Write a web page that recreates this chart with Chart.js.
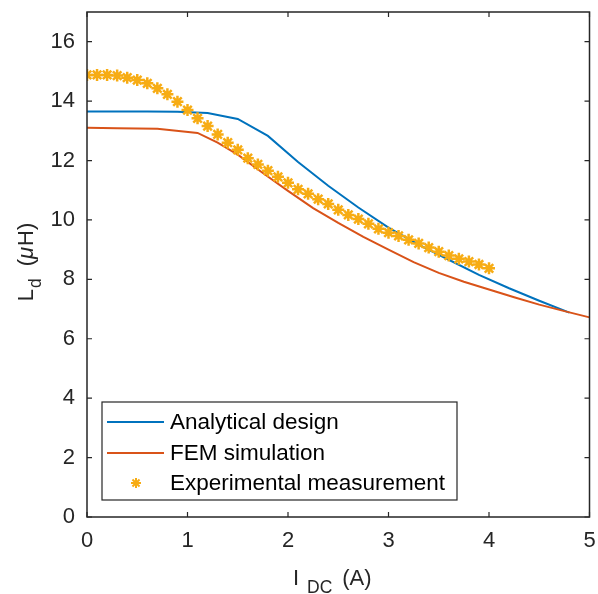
<!DOCTYPE html>
<html>
<head>
<meta charset="utf-8">
<script src="https://cdn.jsdelivr.net/npm/chart.js@4/dist/chart.umd.min.js"></script>
<style>
  html, body { margin: 0; padding: 0; background: #fff; }
</style>
</head>
<body>
<canvas id="chart" width="598" height="594"></canvas>
<script>
// series (I_DC in A, L_d in uH)
const analyticalX = [0, 0.3, 0.6, 0.9, 1.2, 1.5, 1.8, 2.1, 2.4, 2.7, 3.0, 3.3, 3.6, 3.9, 4.2, 4.5, 4.8];
const analyticalY = [13.65, 13.65, 13.65, 13.64, 13.6, 13.4, 12.83, 11.95, 11.15, 10.42, 9.74, 9.17, 8.66, 8.15, 7.7, 7.28, 6.88];

const femX = [0, 0.3, 0.7, 1.1, 1.3, 1.5, 1.75, 2.0, 2.25, 2.5, 2.75, 3.0, 3.25, 3.5, 3.75, 4.0, 4.25, 4.5, 4.75, 5.0];
const femY = [13.1, 13.09, 13.07, 12.93, 12.6, 12.2, 11.58, 10.98, 10.4, 9.9, 9.43, 9.0, 8.58, 8.22, 7.92, 7.66, 7.4, 7.15, 6.93, 6.72];

const measX = [0, 0.1, 0.2, 0.3, 0.4, 0.5, 0.6, 0.7, 0.8, 0.9, 1.0, 1.1, 1.2, 1.3, 1.4, 1.5, 1.6, 1.7, 1.8, 1.9, 2.0,
               2.1, 2.2, 2.3, 2.4, 2.5, 2.6, 2.7, 2.8, 2.9, 3.0, 3.1, 3.2, 3.3, 3.4, 3.5, 3.6, 3.7, 3.8, 3.9, 4.0];
const measY = [14.88, 14.88, 14.88, 14.86, 14.79, 14.71, 14.6, 14.43, 14.23, 13.98, 13.7, 13.42, 13.16, 12.88, 12.6, 12.36,
               12.08, 11.87, 11.66, 11.45, 11.25, 11.03, 10.88, 10.7, 10.54, 10.34, 10.17, 10.03, 9.87, 9.7, 9.57, 9.46,
               9.33, 9.21, 9.07, 8.93, 8.8, 8.69, 8.6, 8.5, 8.37];

const seriesLabels = ['Analytical design', 'FEM simulation', 'Experimental measurement'];
const xTicks = [0, 1, 2, 3, 4, 5];
const yTicks = [0, 2, 4, 6, 8, 10, 12, 14, 16];

const FONT = "'Liberation Sans', Arial, Helvetica, sans-serif";
const AXIS = '#262626';
const BLUE = '#0072BD';
const ORANGE = '#D95319';
const GOLD = '#F7AC14';

const toPoints = (xs, ys) => xs.map((x, i) => ({ x: x, y: ys[i] }));

// asterisk like MATLAB's '*' marker
function drawStar(ctx, x, y, r) {
  ctx.beginPath();
  for (let k = 0; k < 4; k++) {
    const a = k * Math.PI / 4;
    ctx.moveTo(x - r * Math.cos(a), y - r * Math.sin(a));
    ctx.lineTo(x + r * Math.cos(a), y + r * Math.sin(a));
  }
  ctx.stroke();
}

// draws text pieces one after another; sub pieces are smaller and lowered
function drawPieces(ctx, pieces, x, y) {
  pieces.forEach(p => {
    ctx.font = p.font;
    ctx.fillText(p.text, x, y + (p.dy || 0));
    x += ctx.measureText(p.text).width + (p.gap || 0);
  });
}
function piecesWidth(ctx, pieces) {
  return pieces.reduce((w, p) => { ctx.font = p.font; return w + ctx.measureText(p.text).width + (p.gap || 0); }, 0);
}

const frame = {
  id: 'frame',
  afterDatasetsDraw(chart) {
    const { ctx, chartArea: a, scales } = chart;
    ctx.save();
    ctx.strokeStyle = AXIS;
    ctx.lineWidth = 1.5;
    ctx.strokeRect(a.left, a.top, a.right - a.left, a.bottom - a.top);
    ctx.lineWidth = 1.2;
    ctx.beginPath();
    xTicks.forEach(v => {
      const px = scales.x.getPixelForValue(v);
      ctx.moveTo(px, a.bottom); ctx.lineTo(px, a.bottom - 5);
      ctx.moveTo(px, a.top); ctx.lineTo(px, a.top + 5);
    });
    yTicks.forEach(v => {
      const py = scales.y.getPixelForValue(v);
      ctx.moveTo(a.left, py); ctx.lineTo(a.left + 5, py);
      ctx.moveTo(a.right, py); ctx.lineTo(a.right - 5, py);
    });
    ctx.stroke();
    ctx.restore();
  },
  afterDraw(chart) {
    const { ctx, chartArea: a } = chart;
    const ds = chart.data.datasets;
    ctx.save();

    // legend box, lower left
    const bx = a.left + 15, by = 402, bw = 355, bh = 98;
    ctx.fillStyle = '#fff';
    ctx.fillRect(bx, by, bw, bh);
    ctx.strokeStyle = AXIS;
    ctx.lineWidth = 1.2;
    ctx.strokeRect(bx, by, bw, bh);
    ctx.font = '22.5px ' + FONT;
    ctx.textBaseline = 'middle';
    ctx.textAlign = 'left';
    const rows = [by + 20, by + 51, by + 81];
    ds.forEach((d, i) => {
      const ry = rows[i];
      ctx.strokeStyle = d.borderColor;
      ctx.lineWidth = 2;
      if (d.showLine === false) {
        drawStar(ctx, bx + 34, ry, 5);
      } else {
        ctx.beginPath();
        ctx.moveTo(bx + 5, ry); ctx.lineTo(bx + 62, ry);
        ctx.stroke();
      }
      ctx.fillStyle = '#000';
      ctx.fillText(d.label, bx + 68, ry + 1);
    });

    // axis titles with subscripts
    ctx.fillStyle = AXIS;
    ctx.textBaseline = 'alphabetic';
    const big = '22px ' + FONT, small = '17.5px ' + FONT, ital = 'italic 22px ' + FONT;

    const xt = [
      { text: 'I', font: big, gap: 8 },
      { text: 'DC', font: small, dy: 8, gap: 10 },
      { text: '(A)', font: big },
    ];
    drawPieces(ctx, xt, (a.left + a.right) / 2 - 6 - piecesWidth(ctx, xt) / 2, 585);

    const yt = [
      { text: 'L', font: big, gap: 1 },
      { text: 'd', font: small, dy: 8, gap: 12 },
      { text: '(', font: big },
      { text: '\u03bc', font: ital, gap: 1 },
      { text: 'H)', font: big },
    ];
    ctx.translate(33, 262);
    ctx.rotate(-Math.PI / 2);
    drawPieces(ctx, yt, -piecesWidth(ctx, yt) / 2, 0);

    ctx.restore();
  }
};

new Chart(document.getElementById('chart').getContext('2d'), {
  type: 'scatter',
  data: {
    datasets: [
      {
        label: seriesLabels[0],
        data: toPoints(analyticalX, analyticalY),
        showLine: true,
        borderColor: BLUE,
        backgroundColor: BLUE,
        borderWidth: 2,
        pointRadius: 0,
        order: 3,
      },
      {
        label: seriesLabels[1],
        data: toPoints(femX, femY),
        showLine: true,
        borderColor: ORANGE,
        backgroundColor: ORANGE,
        borderWidth: 2,
        pointRadius: 0,
        order: 2,
      },
      {
        label: seriesLabels[2],
        data: toPoints(measX, measY),
        showLine: false,
        borderColor: GOLD,
        backgroundColor: GOLD,
        pointStyle: 'star',
        pointRadius: 6,
        pointBorderWidth: 2.5,
        order: 1,
      },
    ],
  },
  options: {
    responsive: false,
    animation: false,
    layout: { padding: { left: 0, top: 12, right: 8, bottom: 0 } },
    plugins: {
      legend: { display: false },
      tooltip: { enabled: false },
    },
    scales: {
      x: {
        type: 'linear',
        min: 0,
        max: 5,
        afterFit: s => { s.height = 77; s.paddingLeft = 0; s.paddingRight = 0; },
        afterBuildTicks: s => { s.ticks = xTicks.map(v => ({ value: v })); },
        grid: { display: false, drawTicks: false },
        border: { display: false },
        ticks: { color: AXIS, padding: 11, font: { family: FONT, size: 22 } },
      },
      y: {
        type: 'linear',
        min: 0,
        max: 17,
        afterFit: s => { s.width = 87; s.paddingTop = 0; s.paddingBottom = 0; },
        afterBuildTicks: s => { s.ticks = yTicks.map(v => ({ value: v })); },
        grid: { display: false, drawTicks: false },
        border: { display: false },
        ticks: { color: AXIS, padding: 12, font: { family: FONT, size: 22 } },
      },
    },
  },
  plugins: [frame],
});
</script>
</body>
</html>
